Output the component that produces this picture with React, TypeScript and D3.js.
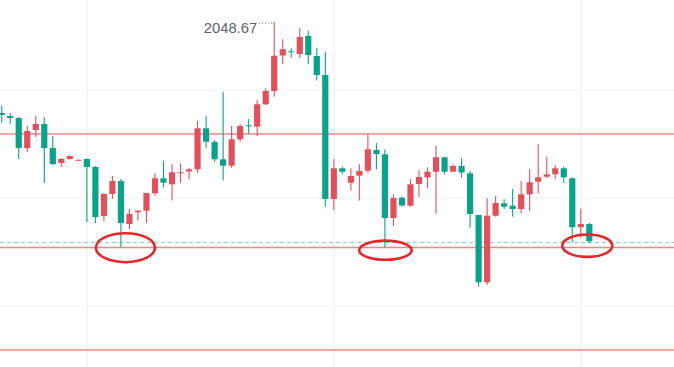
import React from "react";
import * as d3 from "d3";

const W = 674;
const H = 367;

// OHLC data (price units)
const opens = [
  2039.57, 2039.27, 2039.07, 2036.07, 2037.87, 2038.47, 2036.07, 2034.57, 2034.97, 2034.82,
  2034.97, 2034.17, 2029.27, 2031.47, 2032.77, 2028.47, 2029.64, 2029.80, 2031.54, 2033.04,
  2032.44, 2033.57, 2033.72, 2033.94, 2038.04, 2036.67, 2034.94, 2034.30, 2036.94, 2038.34,
  2038.20, 2040.44, 2041.77, 2045.32, 2045.74, 2045.47, 2047.27, 2045.27, 2043.37, 2030.97,
  2034.04, 2032.60, 2033.30, 2033.80, 2035.87, 2035.44, 2029.07, 2031.10, 2030.30, 2032.47,
  2033.12, 2033.70, 2035.14, 2033.70, 2034.27, 2033.54, 2029.37, 2022.64, 2029.30, 2030.54,
  2030.30, 2029.97, 2031.44, 2032.70, 2033.20, 2033.44, 2034.04, 2033.04, 2028.15, 2028.47,
];
const highs = [
  2040.27, 2039.57, 2039.17, 2038.27, 2039.27, 2039.17, 2037.27, 2035.07, 2035.32, 2034.92,
  2035.02, 2034.27, 2031.57, 2033.27, 2032.97, 2029.97, 2029.82, 2031.60, 2033.54, 2034.82,
  2034.44, 2034.54, 2034.07, 2038.80, 2039.27, 2036.87, 2041.70, 2038.30, 2038.44, 2038.97,
  2040.87, 2042.04, 2048.67, 2046.94, 2046.04, 2048.04, 2047.80, 2046.07, 2045.67, 2034.97,
  2034.20, 2034.04, 2034.44, 2037.44, 2036.57, 2035.94, 2031.42, 2031.22, 2032.94, 2033.87,
  2034.14, 2036.30, 2035.20, 2034.44, 2035.04, 2033.80, 2029.39, 2031.07, 2031.27, 2030.94,
  2031.97, 2032.77, 2033.97, 2036.44, 2035.20, 2034.34, 2034.20, 2033.14, 2030.00, 2028.57,
];
const lows = [
  2038.60, 2038.47, 2034.97, 2035.67, 2037.17, 2032.57, 2034.37, 2034.17, 2034.92, 2034.79,
  2028.67, 2028.57, 2028.77, 2030.97, 2026.17, 2027.97, 2028.82, 2028.57, 2031.30, 2032.12,
  2030.82, 2032.57, 2032.94, 2033.60, 2036.07, 2034.70, 2032.82, 2034.10, 2036.70, 2037.47,
  2037.27, 2040.37, 2041.20, 2044.47, 2045.10, 2045.07, 2044.47, 2042.82, 2030.20, 2029.87,
  2033.47, 2031.80, 2030.82, 2033.57, 2033.94, 2026.12, 2028.27, 2030.22, 2030.20, 2031.20,
  2032.04, 2029.47, 2033.45, 2033.68, 2033.10, 2028.10, 2022.20, 2022.37, 2029.20, 2029.97,
  2029.20, 2029.54, 2029.77, 2031.54, 2033.04, 2032.95, 2032.57, 2026.67, 2027.12, 2026.57,
];
const closes = [
  2039.37, 2039.07, 2036.07, 2037.77, 2038.47, 2036.07, 2034.47, 2034.97, 2035.27, 2034.89,
  2034.17, 2029.17, 2031.47, 2032.77, 2028.57, 2029.47, 2029.80, 2031.57, 2033.04, 2032.60,
  2033.64, 2033.64, 2033.94, 2038.04, 2036.70, 2034.94, 2034.30, 2036.94, 2038.27, 2038.27,
  2040.44, 2041.77, 2045.30, 2045.94, 2045.64, 2047.17, 2045.37, 2043.37, 2030.97, 2034.04,
  2033.70, 2033.27, 2033.77, 2035.94, 2035.47, 2029.07, 2031.07, 2030.32, 2032.44, 2033.17,
  2033.70, 2035.14, 2033.70, 2034.27, 2033.62, 2029.47, 2022.64, 2029.30, 2030.57, 2030.20,
  2029.97, 2031.44, 2032.64, 2033.14, 2033.44, 2034.04, 2033.14, 2028.15, 2028.47, 2026.74,
];

const gridPrices = [2041.87, 2031.07, 2020.27];
const gridIndices = [10, 39, 68];
const levelPrices = [2037.47, 2026.12, 2015.87];
const lastPrice = 2026.62;
const highLabel = "2048.67";
const highIndex = 32;
// circled lows: [candle index, price]
const circles = [
  [14, 2026.1, 29.5, 14.5],
  [45, 2025.85, 26.2, 9.6],
  [69, 2026.3, 25, 11.2],
];

const UP = "#e0515e";
const DOWN = "#0aa389";

export default function App() {
  const y = d3.scaleLinear().domain([2014.17, 2050.87]).range([H, 0]);
  const x = d3.scaleLinear().domain([0, opens.length - 1]).range([1.7, 589.3]);
  const bw = 6.2;

  return (
    <>
      <style>{`body{margin:0;background:#fff}`}</style>
      <svg width={W} height={H} style={{ display: "block" }} fontFamily="Liberation Sans, Arial, sans-serif">
        <rect width={W} height={H} fill="#fff" />
        {gridPrices.map((p, i) => (
          <line key={"gh" + i} x1={0} x2={W} y1={y(p)} y2={y(p)} stroke="#f0f1f4" strokeWidth={1.2} />
        ))}
        {gridIndices.map((g, i) => (
          <line key={"gv" + i} x1={x(g) + 0.4} x2={x(g) + 0.4} y1={0} y2={H} stroke="#f0f1f4" strokeWidth={1.2} />
        ))}
        {levelPrices.map((p, i) => (
          <line key={"lv" + i} x1={0} x2={W} y1={y(p)} y2={y(p)} stroke="#f48585" strokeWidth={1.4} />
        ))}
        <line x1={0} x2={W} y1={y(lastPrice)} y2={y(lastPrice)} stroke="#86d3c3" strokeWidth={1} strokeDasharray="4 3" />
        {opens.map((o, i) => {
          const c = closes[i];
          const up = c >= o;
          const col = up ? UP : DOWN;
          const top = y(Math.max(o, c));
          const bot = y(Math.min(o, c));
          const cx = x(i);
          return (
            <g key={i}>
              <line x1={cx} x2={cx} y1={y(highs[i])} y2={y(lows[i])} stroke={col} strokeWidth={1.1} />
              <rect x={cx - bw / 2} y={top} width={bw} height={Math.max(bot - top, 1)} fill={col} />
            </g>
          );
        })}
        <text
          x={x(highIndex) - 17}
          y={y(highs[highIndex]) + 11}
          textAnchor="end"
          fontSize={14.8}
          fill="#5f626d"
        >
          {highLabel}
        </text>
        <line
          x1={x(highIndex) - 15}
          x2={x(highIndex) - 1}
          y1={y(highs[highIndex]) + 1}
          y2={y(highs[highIndex]) + 1}
          stroke="#5f626d"
          strokeWidth={1}
          strokeDasharray="1 2"
        />
        {circles.map(([idx, p, rx, ry], i) => (
          <ellipse
            key={"c" + i}
            cx={x(idx) + (i === 0 ? 4.5 : i === 2 ? -2 : 0.5)}
            cy={y(p)}
            rx={rx}
            ry={ry}
            fill="none"
            stroke="#e8252b"
            strokeWidth={2.6}
          />
        ))}
      </svg>
    </>
  );
}
